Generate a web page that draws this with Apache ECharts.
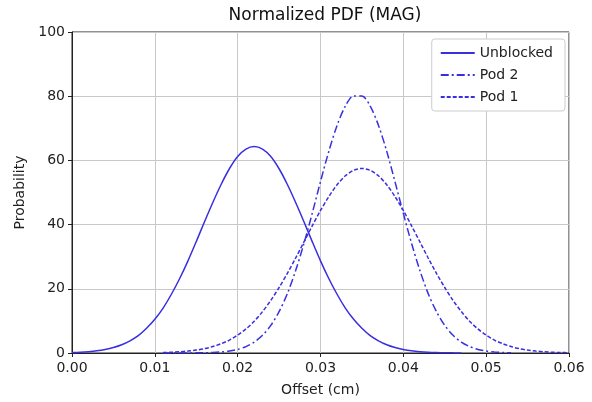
<!DOCTYPE html>
<html>
<head>
<meta charset="utf-8">
<script src="https://cdn.jsdelivr.net/npm/echarts@6/dist/echarts.min.js"></script>
<style>
html,body{margin:0;padding:0;background:#fff;}
#main{width:592px;height:402px;}
</style>
</head>
<body>
<div id="main"></div>
<script>
// offset (cm), one sample every 0.001
var offsets = [0, 0.001, 0.002, 0.003, 0.004, 0.005, 0.006, 0.007, 0.008, 0.009,
	0.010, 0.011, 0.012, 0.013, 0.014, 0.015, 0.016, 0.017, 0.018, 0.019,
	0.020, 0.021, 0.022, 0.023, 0.024, 0.025, 0.026, 0.027, 0.028, 0.029,
	0.030, 0.031, 0.032, 0.033, 0.034, 0.035, 0.036, 0.037, 0.038, 0.039,
	0.040, 0.041, 0.042, 0.043, 0.044, 0.045, 0.046, 0.047, 0.048, 0.049,
	0.050, 0.051, 0.052, 0.053, 0.054, 0.055, 0.056, 0.057, 0.058, 0.059, 0.060];
var unblocked = [0.15, 0.25, 0.42, 0.68, 1.09, 1.69, 2.55, 3.8, 5.4, 7.7,
	10.5, 14.0, 18.3, 23.2, 28.7, 34.7, 40.9, 46.9, 52.5, 57.4,
	61.2, 63.5, 64.3, 63.5, 61.2, 57.4, 52.5, 46.9, 40.9, 34.7,
	28.7, 23.2, 18.3, 14.0, 10.5, 7.7, 5.4, 3.8, 2.55, 1.69,
	1.09, 0.68, 0.42, 0.25, 0.15, 0.08, 0.04, 0.02, null, null,
	null, null, null, null, null, null, null, null, null, null, null];
var pod2 = [null, null, null, null, null, null, null, null, null, null,
	null, 0.0, 0.0, 0.01, 0.02, 0.04, 0.08, 0.16, 0.32, 0.61,
	1.1, 1.98, 3.4, 5.5, 8.6, 12.9, 18.5, 25.7, 34.1, 43.5,
	53.4, 62.8, 70.9, 76.9, 80.1, 80.1, 76.9, 70.9, 62.8, 53.3,
	43.5, 34.1, 25.7, 18.5, 12.9, 8.6, 5.5, 3.4, 2.0, 1.1,
	0.6, 0.32, 0.16, 0.08, null, null, null, null, null, null, null];
var pod1 = [null, null, null, null, null, null, null, null, null, null,
	null, 0.15, 0.24, 0.38, 0.59, 0.91, 1.36, 2.0, 2.9, 4.0,
	5.6, 7.5, 9.9, 12.9, 16.4, 20.4, 24.8, 29.6, 34.6, 39.6,
	44.4, 48.7, 52.4, 55.2, 56.9, 57.5, 56.9, 55.2, 52.4, 48.7,
	44.4, 39.6, 34.6, 29.6, 24.8, 20.4, 16.4, 12.9, 9.9, 7.5,
	5.6, 4.0, 2.9, 2.0, 1.36, 0.91, 0.59, 0.38, 0.24, 0.15, 0.09];
var xTicks = ['0.00', '0.01', '0.02', '0.03', '0.04', '0.05', '0.06'];

var lineColor = '#3a2fe0';
var font = 'DejaVu Sans';

function pairs(vals) {
	var out = [];
	for (var i = 0; i < offsets.length; i++) {
		if (vals[i] !== null) out.push([offsets[i], vals[i]]);
	}
	return out;
}

var chart = echarts.init(document.getElementById('main'));
var option = {
	animation: false,
	backgroundColor: '#fff',
	textStyle: {fontFamily: font},
	title: {
		text: 'Normalized PDF (MAG)',
		left: 320, top: 2, textAlign: 'center',
		textStyle: {fontFamily: font, fontSize: 17, fontWeight: 'normal', color: '#111'}
	},
	legend: {
		orient: 'vertical',
		right: 27, top: 39,
		backgroundColor: '#fff',
		borderColor: '#ccc', borderWidth: 1, borderRadius: 3,
		padding: [7, 12, 7, 8],
		itemGap: 8,
		itemWidth: 34, itemHeight: 14,
		itemStyle: {opacity: 0},
		textStyle: {fontFamily: font, fontSize: 14, color: '#222'},
		data: ['Unblocked', 'Pod 2', 'Pod 1']
	},
	grid: {
		left: 72, right: 23, top: 32, bottom: 49,
		show: true, borderColor: '#222', borderWidth: 1
	},
	xAxis: {
		type: 'value', min: 0, max: 0.06, interval: 0.01,
		name: 'Offset (cm)', nameLocation: 'middle', nameGap: 30,
		nameTextStyle: {fontFamily: font, fontSize: 14, color: '#222'},
		axisLine: {lineStyle: {color: '#222'}},
		axisTick: {show: true, length: 4, lineStyle: {color: '#222'}},
		axisLabel: {fontFamily: font, fontSize: 14, color: '#222', margin: 8,
			formatter: function (v) { return xTicks[Math.round(v * 100)]; }},
		splitLine: {show: true, lineStyle: {color: '#c8c8c8'}}
	},
	yAxis: {
		type: 'value', min: 0, max: 100, interval: 20,
		name: 'Probability', nameLocation: 'middle', nameGap: 44,
		nameTextStyle: {fontFamily: font, fontSize: 14, color: '#222'},
		axisLine: {show: true, lineStyle: {color: '#222'}},
		axisTick: {show: true, length: 4, lineStyle: {color: '#222'}},
		axisLabel: {fontFamily: font, fontSize: 14, color: '#222', margin: 7},
		splitLine: {show: true, lineStyle: {color: '#c8c8c8'}}
	},
	series: [
		{name: 'Unblocked', type: 'line', data: pairs(unblocked), smooth: 0.3,
			showSymbol: false, symbol: 'none', color: lineColor,
			lineStyle: {color: lineColor, width: 1.5, type: 'solid'}},
		{name: 'Pod 2', type: 'line', data: pairs(pod2), smooth: 0.3,
			showSymbol: false, symbol: 'none', color: lineColor,
			lineStyle: {color: lineColor, width: 1.5, type: [8, 3, 2, 3]}},
		{name: 'Pod 1', type: 'line', data: pairs(pod1), smooth: 0.3,
			showSymbol: false, symbol: 'none', color: lineColor,
			lineStyle: {color: lineColor, width: 1.5, type: [4, 2]}}
	]
};
chart.setOption(option);
</script>
</body>
</html>
